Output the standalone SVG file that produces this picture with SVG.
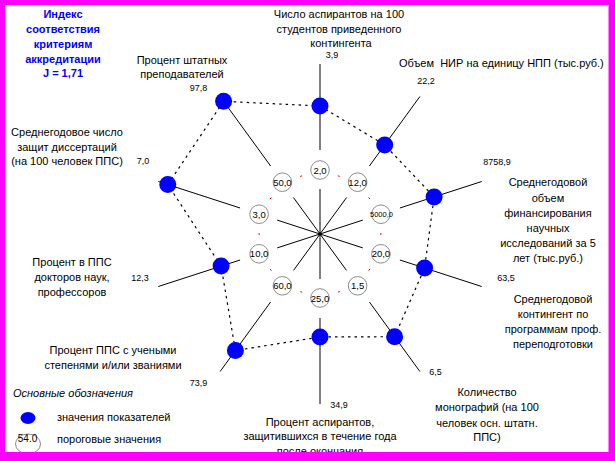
<svg xmlns="http://www.w3.org/2000/svg" width="615" height="461" viewBox="0 0 615 461">
<style>
text{font-family:"Liberation Sans",Arial,sans-serif;fill:#000}
.lbl{font-size:11px;text-anchor:middle}
.num{font-size:9px;text-anchor:middle}
.thr{font-size:9.5px;text-anchor:middle}
.title{font-size:11px;font-weight:bold;fill:#0000FF;text-anchor:middle}
.ax{stroke:#000;stroke-width:1;fill:none}
.tc{fill:#fff;stroke:#8c8c8c;stroke-width:1}
.pt{fill:#0000FF}
</style>
<rect x="0" y="0" width="615" height="461" fill="#fff"/>

<g id="connectors">
  <g class="ax">
    <path d="M320 234L320 189M320 234L346.5 197.6M320 234L362.8 220.1M320 234L362.8 247.9M320 234L346.5 270.4M320 234L320 279M320 234L293.5 270.4M320 234L277.2 247.9M320 234L277.2 220.1M320 234L293.5 197.6"/>
    <path d="M320 150L320 64M369.4 166L419.9 96.5M399.9 208L481.7 181.5M399.9 260L481.7 286.5M369.4 302L419.9 371.5M320 318L320 404M270.6 302L220.1 371.5M240.1 260L158.3 286.5M240.1 208L158.3 181.5M270.6 166L220.1 96.5"/>
  </g>
  <circle cx="320" cy="234" r="1.8" fill="#000"/>
  <polygon points="320,170 357.6,182.2 380.9,214.2 380.9,253.8 357.6,285.8 320,298 282.4,285.8 259.1,253.8 259.1,214.2 282.4,182.2" fill="none" stroke="#ff0000" stroke-width="1" stroke-dasharray="2 37.55" stroke-dashoffset="-18.78"/>
  <polygon points="320,106 384.7,145 434.1,196.9 424.6,268 394.6,336.7 320,337 235.4,350.5 221.1,266.1 167.8,184.6 223.6,101.3" fill="none" stroke="#000" stroke-width="1.2" stroke-dasharray="2.5 4"/>
</g>

<g id="title">
  <text class="title" x="63" y="17.5">Индекс</text>
  <text class="title" x="63" y="32.5">соответствия</text>
  <text class="title" x="63" y="47.5">критериям</text>
  <text class="title" x="63" y="62.5">аккредитации</text>
  <text class="title" x="63" y="77">J = 1,71</text>
</g>

<g id="node-aspirants">
  <circle class="tc" cx="320" cy="170" r="9.3"/>
  <text class="thr" x="320" y="173.5">2,0</text>
  <circle class="pt" cx="320" cy="106" r="8.5"/>
  <text class="num" x="332" y="57.5">3,9</text>
  <text class="lbl" x="339" y="18">Число аспирантов на 100</text>
  <text class="lbl" x="339" y="32.5">студентов приведенного</text>
  <text class="lbl" x="341" y="46.5">контингента</text>
</g>

<g id="node-nir">
  <circle class="tc" cx="357.6" cy="182.2" r="9.3"/>
  <text class="thr" x="357.6" y="185.7">12,0</text>
  <circle class="pt" cx="384.7" cy="145" r="8.5"/>
  <text class="num" x="426" y="83.5">22,2</text>
  <text class="lbl" x="399" y="66.5" style="text-anchor:start;white-space:pre">Объем  НИР на единицу НПП (тыс.руб.)</text>
</g>

<g id="node-finance">
  <circle class="tc" cx="380.9" cy="214.2" r="9.3"/>
  <text class="thr" x="381.5" y="217" style="font-size:7.5px">5000,0</text>
  <circle class="pt" cx="434.1" cy="196.9" r="8.5"/>
  <text class="num" x="497" y="164.5">8758,9</text>
  <text class="lbl" x="548" y="186">Среднегодовой</text>
  <text class="lbl" x="548" y="201.5">объем</text>
  <text class="lbl" x="548" y="217">финансирования</text>
  <text class="lbl" x="548" y="232">научных</text>
  <text class="lbl" x="548" y="247">исследований за 5</text>
  <text class="lbl" x="548" y="262">лет (тыс.руб.)</text>
</g>

<g id="node-retraining">
  <circle class="tc" cx="380.9" cy="253.8" r="9.3"/>
  <text class="thr" x="380.9" y="257.3">20,0</text>
  <circle class="pt" cx="424.6" cy="268" r="8.5"/>
  <text class="num" x="506" y="280.5">63,5</text>
  <text class="lbl" x="553" y="303">Среднегодовой</text>
  <text class="lbl" x="553" y="318">контингент по</text>
  <text class="lbl" x="553" y="333">программам проф.</text>
  <text class="lbl" x="553" y="347.5">переподготовки</text>
</g>

<g id="node-monographs">
  <circle class="tc" cx="357.6" cy="285.8" r="9.3"/>
  <text class="thr" x="357.6" y="289.3">1,5</text>
  <circle class="pt" cx="394.6" cy="336.7" r="8.5"/>
  <text class="num" x="435.5" y="374.5">6,5</text>
  <text class="lbl" x="487" y="396">Количество</text>
  <text class="lbl" x="487" y="411">монографий (на 100</text>
  <text class="lbl" x="487" y="426.5">человек осн. штатн.</text>
  <text class="lbl" x="487" y="441">ППС)</text>
</g>

<g id="node-defended">
  <circle class="tc" cx="320" cy="298" r="9.3"/>
  <text class="thr" x="320" y="301.5">25,0</text>
  <circle class="pt" cx="320" cy="337" r="8.5"/>
  <text class="num" x="339" y="407.5">34,9</text>
  <text class="lbl" x="320" y="426">Процент аспирантов,</text>
  <text class="lbl" x="320" y="440">защитившихся в течение года</text>
  <text class="lbl" x="320" y="455">после окончания</text>
</g>

<g id="node-degrees">
  <circle class="tc" cx="282.4" cy="285.8" r="9.3"/>
  <text class="thr" x="282.4" y="289.3">60,0</text>
  <circle class="pt" cx="235.4" cy="350.5" r="8.5"/>
  <text class="num" x="198.5" y="385.5">73,9</text>
  <text class="lbl" x="113" y="354">Процент ППС с учеными</text>
  <text class="lbl" x="113" y="368.5">степенями и/или званиями</text>
</g>

<g id="node-doctors">
  <circle class="tc" cx="259.1" cy="253.8" r="9.3"/>
  <text class="thr" x="259.1" y="257.3">10,0</text>
  <circle class="pt" cx="221.1" cy="266.1" r="8.5"/>
  <text class="num" x="140" y="280.5">12,3</text>
  <text class="lbl" x="72" y="266">Процент в ППС</text>
  <text class="lbl" x="72" y="281">докторов наук,</text>
  <text class="lbl" x="72" y="296">профессоров</text>
</g>

<g id="node-dissertations">
  <circle class="tc" cx="259.1" cy="214.2" r="9.3"/>
  <text class="thr" x="259.1" y="217.7">3,0</text>
  <circle class="pt" cx="167.8" cy="184.6" r="8.5"/>
  <text class="num" x="143" y="163.5">7,0</text>
  <text class="lbl" x="67" y="135.5">Среднегодовое число</text>
  <text class="lbl" x="67" y="150.5">защит диссертаций</text>
  <text class="lbl" x="67" y="165">(на 100 человек ППС)</text>
</g>

<g id="node-staff">
  <circle class="tc" cx="282.4" cy="182.2" r="9.3"/>
  <text class="thr" x="282.4" y="185.7">50,0</text>
  <circle class="pt" cx="223.6" cy="101.3" r="8.5"/>
  <text class="num" x="198.5" y="90.5">97,8</text>
  <text class="lbl" x="182" y="64">Процент штатных</text>
  <text class="lbl" x="182" y="78">преподавателей</text>
</g>

<g id="legend">
  <text x="13" y="397" style="font-size:11px;font-style:italic">Основные обозначения</text>
  <ellipse cx="28" cy="418" rx="7.5" ry="6" class="pt"/>
  <text x="57" y="421" style="font-size:11px">значения показателей</text>
  <ellipse cx="28" cy="444" rx="12.5" ry="10" fill="none" stroke="#8c8c8c" stroke-width="1"/>
  <text x="27.5" y="441.5" style="font-size:10px;text-anchor:middle">54.0</text>
  <text x="57" y="443" style="font-size:11px">пороговые значения</text>
</g>

<path d="M0 0H615V461H0ZM5 5V452H608.5V5Z" fill="#FF00FF" fill-rule="evenodd"/>
</svg>
